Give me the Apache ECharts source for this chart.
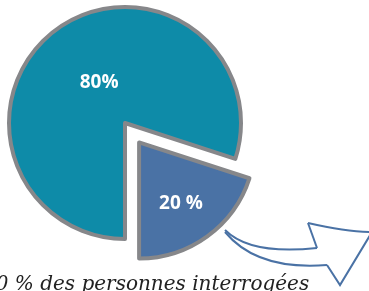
<!DOCTYPE html>
<html>
<head>
<meta charset="utf-8">
<script src="https://cdn.jsdelivr.net/npm/echarts@6/dist/echarts.min.js"></script>
<style>
html, body { margin: 0; padding: 0; background: #fff; }
#pie { width: 369px; height: 291px; }
</style>
</head>
<body>
<div id="pie"></div>
<script>
// données du camembert
var parts = ['20 %', '80%'];
var valeurs = [20, 80];
var couleurs = ['#4a72a5', '#0e8ba8'];
var legende = '20 % des personnes interrogées';

var pieChart = echarts.init(document.getElementById('pie'));

var data = [];
for (var i = 0; i < valeurs.length; i++) {
    data.push({
        name: parts[i],
        value: valeurs[i],
        selected: i === 0,
        itemStyle: { color: couleurs[i] }
    });
}

// flèche décorative
var trait = { stroke: '#4a72a5', lineWidth: 2, fill: 'none' };
var fleche = [
    { type: 'bezierCurve', shape: { x1: 225, y1: 230, cpx1: 245, cpy1: 250, cpx2: 280, cpy2: 252, x2: 317, y2: 248 } },
    { type: 'polyline', shape: { points: [[317, 248], [308, 223]] } },
    { type: 'bezierCurve', shape: { x1: 308, y1: 223, cpx1: 330, cpy1: 228, cpx2: 355, cpy2: 232, x2: 372, y2: 232 } },
    { type: 'polyline', shape: { points: [[372, 232], [340, 285], [327, 265]] } },
    { type: 'bezierCurve', shape: { x1: 327, y1: 265, cpx1: 290, cpy1: 268, cpx2: 250, cpy2: 262, x2: 225, y2: 232 } }
];
fleche.forEach(function (el) { el.style = trait; });

pieChart.setOption({
    animation: false,
    series: [{
        type: 'pie',
        center: [125, 123],
        radius: 116,
        startAngle: -18,
        clockwise: true,
        selectedMode: 'single',
        selectedOffset: 24,
        itemStyle: {
            borderColor: '#86878a',
            borderWidth: 4
        },
        label: {
            show: true,
            position: 'inside',
            formatter: '{b}',
            color: '#fff',
            fontSize: 19,
            fontWeight: 'bold',
            fontFamily: 'Open Sans'
        },
        labelLayout: function (params) {
            // décalage des étiquettes comme sur l'original
            if (params.dataIndex === 0) {
                return { dx: 6, dy: 12 };
            }
            return { dx: 10, dy: 9 };
        },
        labelLine: { show: false },
        emphasis: { disabled: true },
        data: data
    }],
    graphic: fleche.concat([{
        type: 'text',
        left: -17,
        top: 275,
        style: {
            text: legende,
            fill: '#222',
            font: 'italic 20px "DejaVu Serif"'
        }
    }])
});
</script>
</body>
</html>
